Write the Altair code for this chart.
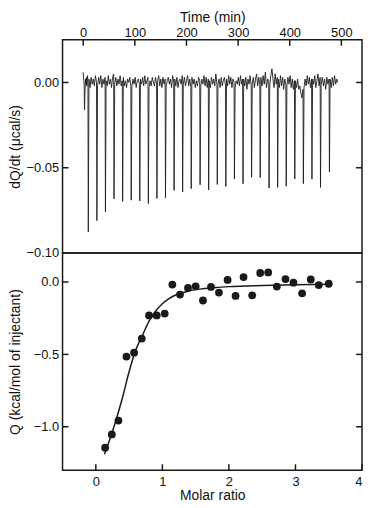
import altair as alt
import pandas as pd
import numpy as np

# ---------------- data: raw thermogram (top panel) ----------------
# injection times (min) and peak heights (ucal/s); first one is the small pre-injection
inj_time = [2.2, 9.6, 26.2, 42.8, 59.4, 76.1, 92.7, 109.3, 125.9, 142.5, 159.1,
            175.7, 192.3, 208.9, 226.1, 242.7, 259.4, 276.0, 292.6, 309.2, 325.8,
            342.5, 359.7, 376.3, 392.9, 409.5, 426.1, 442.7, 459.3, 476.6]
inj_peak = [-0.016, -0.0876, -0.081, -0.0758, -0.0682, -0.0697, -0.069, -0.0695,
            -0.071, -0.068, -0.0676, -0.0632, -0.0642, -0.0623, -0.060, -0.063,
            -0.0598, -0.061, -0.0566, -0.0594, -0.0556, -0.0558, -0.0619, -0.0615,
            -0.0608, -0.0566, -0.0593, -0.0567, -0.0615, -0.0524]
lead_t = [0.0, 0.6, 1.3, 1.9]
lead_v = [0.006, 0.003, 0.001, -0.001]
end_time = 493.7
# baseline noise read between injections (x 1e-3 ucal/s), one row per segment
noise = [
    [-3, 2, -1, 3, -2, 1, 4, -1],
    [2, -3, 3, -1, 2, -2, 4, 0],
    [-2, 3, -1, 4, -3, 2, -1, 3],
    [1, -2, 4, -1, 2, -3, 3, 5],
    [-1, 3, -2, 2, -1, 4, -2, 1],
    [3, -2, 1, -3, 2, 0, 3, -2],
    [-2, 2, -1, 3, -3, 1, 2, -1],
    [2, -1, 3, -2, 4, -1, 1, 3],
    [-3, 1, -2, 3, 0, -2, 3, -1],
    [1, 4, -2, 2, -3, 3, -1, 2],
    [-2, 1, 3, -1, 2, -3, 4, 0],
    [2, -2, 3, -3, 1, 2, -1, 4],
    [-1, 3, -2, 1, 4, -2, 2, -3],
    [3, -1, 2, -3, 1, -2, 3, 1],
    [-2, 2, -1, 4, -2, 3, -3, 2],
    [1, -3, 3, -1, 2, -2, 5, -1],
    [-1, 2, -3, 3, -2, 1, 3, -2],
    [2, -2, 4, -1, 3, -3, 2, 0],
    [-3, 1, -1, 3, -2, 4, -1, 2],
    [2, -2, 3, -4, 2, -1, 4, -2],
    [-1, 3, -3, 2, 5, -2, 3, -1],
    [3, -2, 4, -1, 6, -3, 2, 1],
    [-2, 4, 8, 2, -3, 5, -1, 3],
    [2, -3, 4, -2, 3, -4, 2, -1],
    [-2, 3, -1, 4, -3, 2, -4, 1],
    [1, -3, 2, -4, -2, -6, -9, -4],
    [-3, 2, -2, 4, -1, 3, -3, 2],
    [2, -1, 4, -3, 1, 5, -2, 3],
    [-1, 3, -2, 2, -4, 3, -1, 2],
    [2, -3, 3, -2, 4, -1, 2, 0],
]

# ---------------- data: integrated heats (bottom panel) ----------------
molar = [0.14, 0.24, 0.34, 0.46, 0.575, 0.69, 0.80, 0.915, 1.035, 1.15, 1.265,
         1.385, 1.50, 1.61, 1.73, 1.85, 1.98, 2.10, 2.22, 2.35, 2.47, 2.59, 2.72,
         2.85, 2.97, 3.10, 3.23, 3.35, 3.50]
heat = [-1.145, -1.053, -0.957, -0.515, -0.488, -0.391, -0.231, -0.231, -0.218,
        -0.018, -0.087, -0.041, -0.030, -0.128, -0.034, -0.073, 0.014, -0.096,
        0.034, -0.092, 0.062, 0.066, -0.032, 0.020, -0.005, -0.078, 0.018,
        -0.021, -0.012]
fit_x = [0.13, 0.2, 0.3, 0.4, 0.5, 0.6, 0.7, 0.8, 0.9, 1.0, 1.1, 1.2, 1.4, 1.6,
         1.8, 2.0, 2.5, 3.0, 3.5]
fit_y = [-1.19, -1.10, -0.96, -0.80, -0.62, -0.47, -0.37, -0.27, -0.20, -0.15,
         -0.115, -0.09, -0.062, -0.047, -0.038, -0.032, -0.024, -0.019, -0.016]

time_ticks = [0, 100, 200, 300, 400, 500]
dq_ticks = [0.0, -0.05, -0.10]
dq_side_ticks = [0.0, -0.05]
ratio_ticks = [0, 1, 2, 3, 4]
q_ticks = [0.0, -0.5, -1.0]

# ---------------- build trace table ----------------
rows = [(t, v) for t, v in zip(lead_t, lead_v)]
for k in range(len(inj_time)):
    t0 = inj_time[k]
    rows.append((t0 + 0.3, inj_peak[k]))
    t_next = inj_time[k + 1] if k + 1 < len(inj_time) else end_time
    ts = np.linspace(t0 + 1.6, t_next - 0.4, len(noise[k]))
    for t, n in zip(ts, noise[k]):
        rows.append((float(t), n * 1e-3))
trace = pd.DataFrame(rows, columns=["time", "v"])
trace["i"] = range(len(trace))

W = 302
H1 = 215
H2 = 219
FONT = "Liberation Sans"
INK = "#1a1a1a"

xt = alt.Scale(domain=[-40, 540], nice=False, zero=False)
yt = alt.Scale(domain=[-0.1, 0.025], nice=False, zero=False)
xb = alt.Scale(domain=[-0.5, 4.0], nice=False, zero=False)
yb = alt.Scale(domain=[-1.3, 0.2], nice=False, zero=False)

ax_time = alt.Axis(orient="top", title="Time (min)", values=time_ticks,
                   labelPadding=0, titlePadding=2)
ax_dq = alt.Axis(orient="left", title="dQ/dt (μcal/s)", values=dq_ticks, format=".2f",
                 labelPadding=4, titleX=-40)
ax_ratio = alt.Axis(orient="bottom", title="Molar ratio", values=ratio_ticks, format="d",
                    labelPadding=5, titlePadding=1)
ax_q = alt.Axis(orient="left", title="Q (kcal/mol of injectant)", values=q_ticks,
                format=".1f", labelPadding=4, titleX=-40)

top_line = alt.Chart(trace).mark_line(color="#1c1c1c", strokeWidth=0.9).encode(
    x=alt.X("time:Q", scale=xt, axis=ax_time),
    y=alt.Y("v:Q", scale=yt, axis=ax_dq),
    order="i:Q",
)
t_top = alt.Chart(pd.DataFrame({"time": time_ticks})).mark_rule(color=INK, strokeWidth=1.5).encode(
    x=alt.X("time:Q", scale=xt, axis=ax_time), y=alt.value(0), y2=alt.value(6))
t_left = alt.Chart(pd.DataFrame({"v": dq_side_ticks})).mark_rule(color=INK, strokeWidth=1.5).encode(
    y=alt.Y("v:Q", scale=yt, axis=ax_dq), x=alt.value(0), x2=alt.value(6))
t_right = alt.Chart(pd.DataFrame({"v": dq_side_ticks})).mark_rule(color=INK, strokeWidth=1.5).encode(
    y=alt.Y("v:Q", scale=yt, axis=ax_dq), x=alt.value(W - 6), x2=alt.value(W))
top = alt.layer(top_line, t_top, t_left, t_right).properties(width=W, height=H1)

pts = pd.DataFrame({"ratio": molar, "q": heat})
fit = pd.DataFrame({"ratio": fit_x, "q": fit_y})
curve = alt.Chart(fit).mark_line(color=INK, strokeWidth=1.5, interpolate="monotone").encode(
    x=alt.X("ratio:Q", scale=xb, axis=ax_ratio),
    y=alt.Y("q:Q", scale=yb, axis=ax_q),
)
dots = alt.Chart(pts).mark_circle(color=INK, size=62, opacity=1).encode(
    x=alt.X("ratio:Q", scale=xb, axis=ax_ratio),
    y=alt.Y("q:Q", scale=yb, axis=ax_q),
)
b_bot = alt.Chart(pd.DataFrame({"ratio": ratio_ticks})).mark_rule(color=INK, strokeWidth=1.5).encode(
    x=alt.X("ratio:Q", scale=xb, axis=ax_ratio), y=alt.value(H2 - 6), y2=alt.value(H2))
b_left = alt.Chart(pd.DataFrame({"q": q_ticks})).mark_rule(color=INK, strokeWidth=1.5).encode(
    y=alt.Y("q:Q", scale=yb, axis=ax_q), x=alt.value(0), x2=alt.value(6))
b_right = alt.Chart(pd.DataFrame({"q": q_ticks})).mark_rule(color=INK, strokeWidth=1.5).encode(
    y=alt.Y("q:Q", scale=yb, axis=ax_q), x=alt.value(W - 6), x2=alt.value(W))
bottom = alt.layer(curve, dots, b_bot, b_left, b_right).properties(width=W, height=H2)

chart = alt.vconcat(top, bottom, spacing=0, bounds="flush").properties(
    padding=0, background="white"
).configure_view(
    stroke=INK, strokeWidth=1.5
).configure_axis(
    grid=False, domain=False, ticks=False,
    labelFont=FONT, titleFont=FONT, labelFontSize=13, titleFontSize=14,
    titleFontWeight="normal", labelColor="#111111", titleColor="#111111",
)

chart.save("out.html", embed_options={"renderer": "svg", "actions": False})
